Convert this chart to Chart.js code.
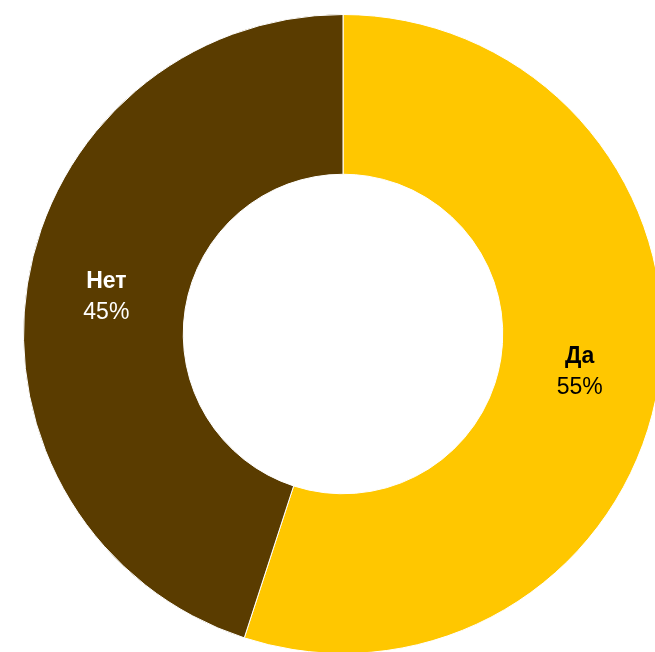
<!DOCTYPE html>
<html>
<head>
<meta charset="utf-8">
<script src="https://cdn.jsdelivr.net/npm/chart.js@4"></script>
<style>
  html, body { margin: 0; padding: 0; background: #fff; overflow: hidden; }
  body { width: 655px; height: 652px; position: relative; }
  #chart { position: absolute; left: 23px; top: 14px; }
</style>
</head>
<body>
<canvas id="chart" width="640" height="640"></canvas>
<script>
const categories = ['Да', 'Нет'];
const shares = [55, 45];
const sliceColors = ['#FFC700', '#5A3C00'];
const labelColors = ['#000000', '#FFFFFF'];

/* Category name in bold, percent below it, in the middle of each slice. */
const sliceLabels = {
  id: 'sliceLabels',
  afterDatasetsDraw(chart) {
    const { ctx } = chart;
    const meta = chart.getDatasetMeta(0);
    ctx.save();
    ctx.textAlign = 'center';
    ctx.textBaseline = 'middle';
    meta.data.forEach((arc, i) => {
      const { x, y } = arc.tooltipPosition();
      ctx.fillStyle = labelColors[i];
      ctx.font = 'bold 23px "Liberation Sans", Arial, sans-serif';
      ctx.fillText(categories[i], x, y - 15);
      ctx.font = '23px "Liberation Sans", Arial, sans-serif';
      ctx.fillText(shares[i] + '%', x, y + 16);
    });
    ctx.restore();
  },
};

new Chart(document.getElementById('chart'), {
  type: 'doughnut',
  data: {
    labels: categories,
    datasets: [{
      data: shares,
      backgroundColor: sliceColors,
      borderColor: '#ffffff',
      borderWidth: 1,
    }],
  },
  options: {
    responsive: false,
    animation: false,
    cutout: '50%',
    layout: { padding: 0 },
    plugins: {
      legend: { display: false },
      tooltip: { enabled: false },
    },
  },
  plugins: [sliceLabels],
});
</script>
</body>
</html>
